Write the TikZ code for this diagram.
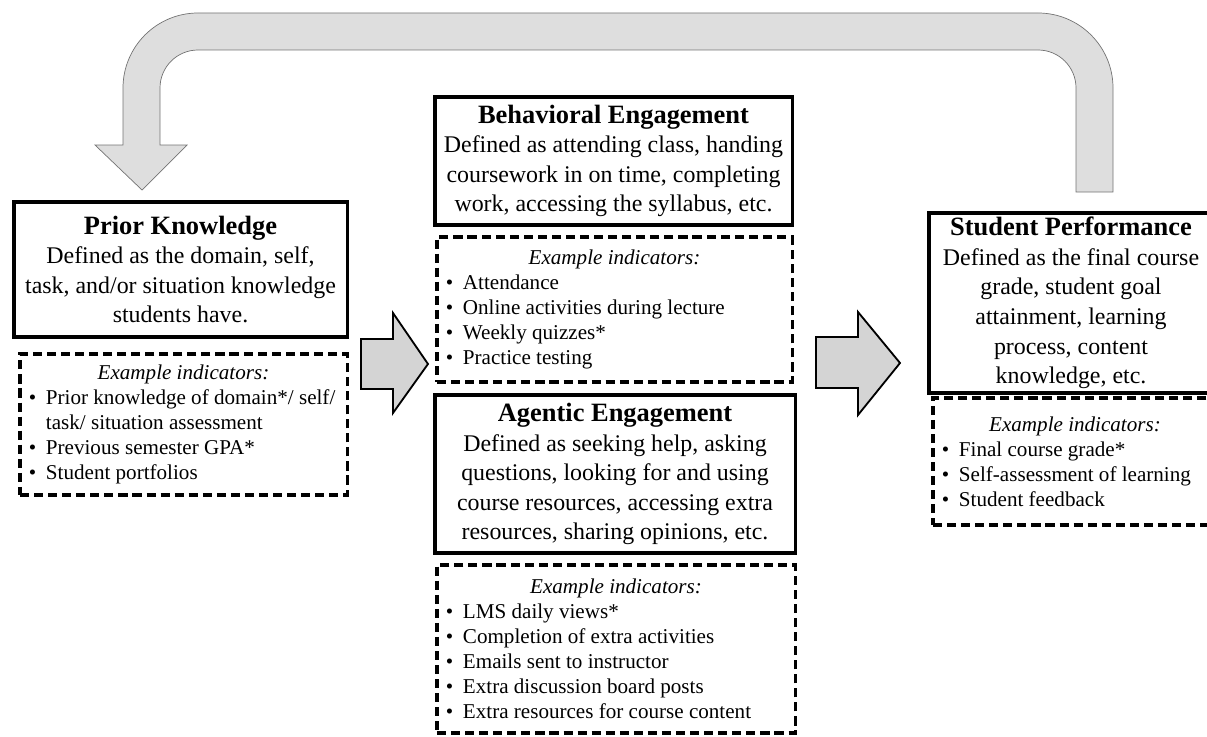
\documentclass[tikz,border=0pt]{standalone}
\usepackage{fontspec}
\setmainfont{Liberation Serif}
\newcommand{\ttl}{\fontsize{18.8}{22}\selectfont\bfseries}
\newcommand{\bdy}{\fontsize{17}{21}\selectfont}
\newcommand{\sml}{\fontsize{15}{17.8}\selectfont}
\newcommand{\exhead}[1]{\makebox[#1][c]{\textit{Example indicators:}}}
\newcommand{\bul}{\makebox[0.45cm][l]{\hspace{0.02cm}\textbullet}}
\newcommand{\hng}{\hspace*{0.45cm}}

\begin{document}
\begin{tikzpicture}[x=0.025cm,y=-0.025cm,
  defbox/.style={draw,line width=2.2pt,align=center,font=\bdy,inner sep=0pt},
  indbox/.style={draw,dash pattern=on 6.5pt off 3.5pt,line width=2.2pt,align=left,font=\sml,inner xsep=0.2cm,inner ysep=0pt},
  blockarrow/.style={draw=black,fill=black!17,line width=1.3pt,line join=miter},
  backarrow/.style={draw=black!55,fill=black!13,line width=0.5pt}]
\useasboundingbox (0,0) rectangle (1207,736);
\draw[backarrow] (1113,192) -- (1113,88) .. controls (1113,46.6) and (1079.4,13) .. (1038,13)
  -- (198,13) .. controls (156.6,13) and (123,46.6) .. (123,88) -- (123,145) -- (95,145)
  -- (142,190) -- (187,145) -- (160,145) -- (160,88) .. controls (160,67) and (177,50) .. (198,50)
  -- (1038,50) .. controls (1059,50) and (1076,67) .. (1076,88) -- (1076,192) -- cycle;
\node[defbox,minimum width=8.325cm,minimum height=3.375cm] (pk) at (180.5,269.5)
  {{\ttl Prior Knowledge}\\ Defined as the domain, self,\\ task, and/or situation knowledge\\ students have.};
\node[indbox,minimum width=8.175cm,minimum height=3.525cm] (pkind) at (183.5,424.5)
  {\exhead{7.775cm}\\ \bul Prior knowledge of domain*/ self/\\ \hng task/ situation assessment\\ \bul Previous semester GPA*\\ \bul Student portfolios};
\node[defbox,minimum width=8.925cm,minimum height=3.2cm] (be) at (613.5,161)
  {{\ttl Behavioral Engagement}\\ Defined as attending class, handing\\ coursework in on time, completing\\ work, accessing the syllabus, etc.};
\node[indbox,minimum width=8.875cm,minimum height=3.625cm] (beind) at (614.5,309.5)
  {\exhead{8.475cm}\\ \bul Attendance\\ \bul Online activities during lecture\\ \bul Weekly quizzes*\\ \bul Practice testing};
\node[defbox,minimum width=9cm,minimum height=3.95cm] (ae) at (615,474)
  {{\ttl Agentic Engagement}\\ Defined as seeking help, asking\\ questions, looking for and using\\ course resources, accessing extra\\ resources, sharing opinions, etc.};
\node[indbox,minimum width=8.95cm,minimum height=4.2cm] (aeind) at (616,649)
  {\exhead{8.55cm}\\ \bul LMS daily views*\\ \bul Completion of extra activities\\ \bul Emails sent to instructor\\ \bul Extra discussion board posts\\ \bul Extra resources for course content};
\node[defbox,minimum width=7.1cm,minimum height=4.5cm] (sp) at (1071,303)
  {{\ttl Student Performance}\\ Defined as the final course\\ grade, student goal\\ attainment, learning\\ process, content\\ knowledge, etc.};
\node[indbox,minimum width=7.1cm,minimum height=3.175cm] (spind) at (1075,461.5)
  {\exhead{6.7cm}\\ \bul Final course grade*\\ \bul Self-assessment of learning\\ \bul Student feedback};
\draw[blockarrow] (361,339) -- (393,339) -- (393,313) -- (428,364) -- (393,413) -- (393,389) -- (361,389) -- cycle;
\draw[blockarrow] (816,337) -- (858,337) -- (858,312) -- (900,363) -- (858,415) -- (858,388) -- (816,388) -- cycle;
\end{tikzpicture}
\end{document}
